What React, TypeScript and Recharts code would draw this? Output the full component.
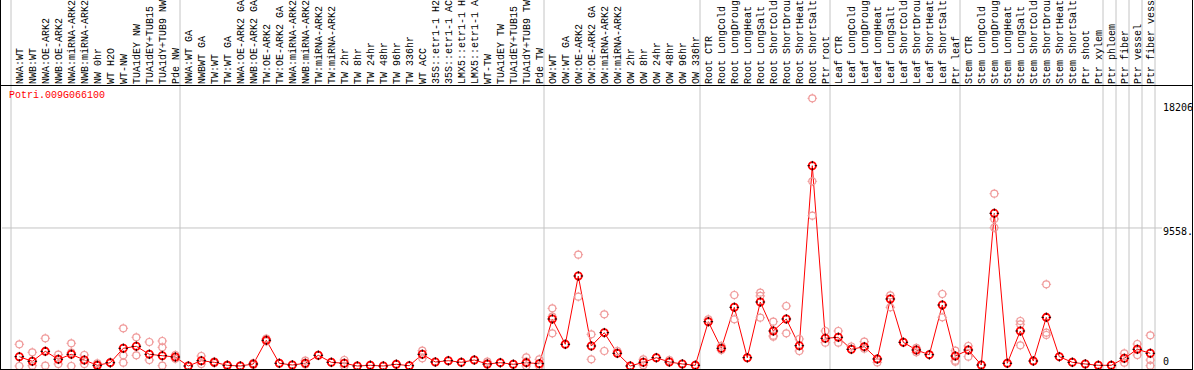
import React from "react";
import {
  ComposedChart,
  Line,
  Scatter,
  XAxis,
  YAxis,
  ReferenceLine,
} from "recharts";

const geneId = "Potri.009G066100";

const categories = [
  "NWA:WT", "NWB:WT", "NWA:OE-ARK2", "NWB:OE-ARK2", "NWA:miRNA-ARK2", "NWB:miRNA-ARK2",
  "NW 0hr", "WT H2O", "WT-NW", "TUA1dEY NW", "TUA1dEY+TUB15", "TUA1dY+TUB9 NW", "Pde NW",
  "NWA:WT GA", "NWBWT GA", "TW:WT", "TW:WT GA", "NWA:OE-ARK2 GA", "NWB:OE-ARK2 GA",
  "TW:OE-ARK2", "TW:OE-ARK2 GA", "NWA:miRNA-ARK2", "NWB:miRNA-ARK2", "TW:miRNA-ARK2",
  "TW:miRNA-ARK2", "TW 2hr", "TW 8hr", "TW 24hr", "TW 48hr", "TW 96hr", "TW 336hr",
  "WT ACC", "35S::etr1-1 H2", "35S::etr1-1 AC", "LMX5::etr1-1 H", "LMX5::etr1-1 A",
  "WT-TW", "TUA1dEY TW", "TUA1dEY+TUB15", "TUA1dY+TUB9 TW", "Pde TW",
  "OW:WT", "OW:WT GA", "OW:OE-ARK2", "OW:OE-ARK2 GA", "OW:miRNA-ARK2", "OW:miRNA-ARK2",
  "OW 2hr", "OW 8hr", "OW 24hr", "OW 48hr", "OW 96hr", "OW 336hr",
  "Root CTR", "Root LongCold", "Root LongDroug", "Root LongHeat", "Root LongSalt",
  "Root ShortCold", "Root ShortDrou", "Root ShortHeat", "Root ShortSalt", "Ptr root",
  "Leaf CTR", "Leaf LongCold", "Leaf LongDroug", "Leaf LongHeat", "Leaf LongSalt",
  "Leaf ShortCold", "Leaf ShortDrou", "Leaf ShortHeat", "Leaf ShortSalt", "Ptr leaf",
  "Stem CTR", "Stem LongCold", "Stem LongDroug", "Stem LongHeat", "Stem LongSalt",
  "Stem ShortCold", "Stem ShortDrou", "Stem ShortHeat", "Stem ShortSalt", "Ptr shoot",
  "Ptr xylem", "Ptr phloem", "Ptr fiber", "Ptr vessel", "Ptr fiber vess",
];

const means = [
  644, 325, 1016, 464, 810, 415, 48, 229, 1226, 1364, 810, 713, 623,
  0, 367, 256, 48, 0, 139, 1780, 187, 69, 187, 741, 256, 187, 0, 48, 0, 118, 21, 810, 277, 367,
  256, 415, 139, 229, 118, 229, 159,
  3255, 1503, 6233, 1385, 2308, 879, 0, 256, 575, 277, 139, 48,
  3068, 1226, 4065, 575, 4432, 2424, 3255, 1406, 13871, 1918,
  1987, 1156, 1337, 485, 4640, 1641, 1108, 783, 4224, 692,
  1108, 69, 10574, 187, 2424, 346, 3370, 645, 256, 139, 48,
  48, 533, 1156, 879,
];

const rep1 = [
  1503, 948, 1918, 783, 1572, 762, 187, 260, 2610, 1987, 1662, 1731, 760,
  0, 692, 300, 80, 0, 200, 1890, 187, 69, 367, 741, 256, 415, 0, 48, 0, 118, 21, 1060, 277, 367,
  256, 415, 300, 229, 118, 602, 464,
  3993, 1503, 7710, 2194, 3578, 1039, 0, 464, 575, 415, 139, 48,
  3234, 1400, 4917, 575, 5076, 3068, 4155, 1870, 18538, 2424,
  2424, 1350, 1683, 485, 4894, 1641, 1250, 783, 4986, 1060,
  1385, 69, 11932, 187, 3116, 346, 5655, 645, 256, 139, 48,
  48, 879, 1523, 2126,
];

const rep2 = [
  0, 21, 21, 139, 921, 139, 0, 200, 741, 741, 415, 1295, 500,
  null, 139, 200, 0, null, 80, 1700, null, null, 100, null, null, 0, null, null, null, null, null, 533, null, null,
  null, null, 100, null, null, 300, 0,
  3417, null, 4800, 464, 1039, 879, null, 50, null, 277, null, null,
  3068, 1100, 3234, null, 4850, 2029, 2264, 1039, 12790, 1614,
  1614, 1156, 1200, 250, 4065, null, 950, null, 3370, 367,
  645, null, 10180, null, 2885, null, 2308, null, null, null, null,
  null, 229, 762, 415,
];

const rep3 = [
  null, null, null, null, 0, null, null, null, 229, null, null, 21, null,
  null, null, null, null, null, null, null, null, null, null, null, null, null, null, null, null, null, null, null, null, null,
  null, null, null, null, null, 0, null,
  2264, null, null, null, null, null, null, null, null, null, null, null,
  null, null, null, null, 3345, 2100, null, null, 10408, null,
  null, null, null, null, null, null, null, null, null, 300,
  null, null, 9577, null, 1431, null, 2147, null, null, null, null,
  null, null, null, 21,
];

// first category index of each block, plus the end
const groupStarts = [0, 13, 41, 53, 63, 73, 84, 85, 86, 87, 88];

const yTicks = [0, 9558, 18206];
const yTickLabels = ["0", "9558.", "18206"];

const lineData = means.map((m, i) => ({ x: i, mean: m }));
const repData = [rep1, rep2, rep3].flatMap((r) =>
  r
    .map((v, i) => (v == null ? null : { x: i, y: v }))
    .filter((d): d is { x: number; y: number } => d !== null)
);

const GRID = "#c4c4c4";
const MONO = "'Liberation Mono', 'DejaVu Sans Mono', monospace";

const MeanDot = (props: any) => {
  const { cx, cy, index } = props;
  if (cx == null || cy == null) return <g key={index} />;
  return (
    <g key={index}>
      <circle cx={cx} cy={cy} r={3.6} fill="none" stroke="#ff0000" strokeWidth={1.8} />
      <line x1={cx} x2={cx} y1={cy - 4.8} y2={cy - 2.4} stroke="#000" strokeWidth={1} />
      <line x1={cx} x2={cx} y1={cy + 2.4} y2={cy + 4.8} stroke="#000" strokeWidth={1} />
      <line x1={cx - 4.8} x2={cx - 2.4} y1={cy} y2={cy} stroke="#000" strokeWidth={1} />
      <line x1={cx + 2.4} x2={cx + 4.8} y1={cy} y2={cy} stroke="#000" strokeWidth={1} />
    </g>
  );
};

const RepDot = (props: any) => {
  const { cx, cy } = props;
  const c = "#f09c9c";
  return (
    <g>
      <circle cx={cx} cy={cy} r={3.5} fill="none" stroke={c} strokeWidth={1.2} />
      <line x1={cx} x2={cx} y1={cy - 4.8} y2={cy - 3} stroke={c} strokeWidth={1} />
      <line x1={cx} x2={cx} y1={cy + 3} y2={cy + 4.8} stroke={c} strokeWidth={1} />
      <line x1={cx - 4.8} x2={cx - 3} y1={cy} y2={cy} stroke={c} strokeWidth={1} />
      <line x1={cx + 3} x2={cx + 4.8} y1={cy} y2={cy} stroke={c} strokeWidth={1} />
    </g>
  );
};

const XTick = (props: any) => {
  const { x, y, payload } = props;
  const label = categories[payload.value];
  return (
    <text
      transform={`translate(${x + 3.5},${y}) rotate(-90)`}
      textAnchor="start"
      fontFamily={MONO}
      fontSize={10}
      fill="#000"
    >
      {label}
    </text>
  );
};

const YTick = (props: any) => {
  const { x, y, payload } = props;
  const idx = yTicks.indexOf(payload.value);
  const label = idx >= 0 ? yTickLabels[idx] : String(payload.value);
  const isZero = payload.value === 0;
  return (
    <text
      x={x}
      y={isZero ? y - 1 : y + 7.5}
      textAnchor="start"
      fontFamily="'DejaVu Sans Mono', monospace"
      fontSize={10}
      fill="#000"
    >
      {label}
    </text>
  );
};

const SepLine = (props: any) => {
  const { x1, y2 } = props;
  return <line x1={x1} x2={x1} y1={0} y2={y2} stroke={GRID} strokeWidth={1} />;
};

export default function App() {
  return (
    <div style={{ position: "absolute", left: 0, top: 0, width: 1194, height: 370, background: "#fff" }}>
      <style>{`body{margin:0;}`}</style>
      <ComposedChart
        width={1194}
        height={370}
        margin={{ top: 0, right: 0, left: 2, bottom: 1 }}
      >
        <XAxis
          xAxisId="x"
          type="number"
          dataKey="x"
          orientation="top"
          height={86}
          domain={[-1.331, 87.9]}
          allowDataOverflow
          ticks={categories.map((_, i) => i)}
          interval={0}
          tick={<XTick />}
          tickSize={0}
          tickMargin={2}
          axisLine={false}
          tickLine={false}
        />
        <YAxis
          yAxisId="y"
          orientation="right"
          width={32}
          type="number"
          domain={[-208, 19391]}
          allowDataOverflow
          ticks={yTicks}
          interval={0}
          tick={<YTick />}
          tickSize={0}
          tickMargin={1}
          axisLine={false}
          tickLine={false}
        />
        <ReferenceLine xAxisId="x" yAxisId="y" y={9558} stroke={GRID} strokeWidth={1} />
        {groupStarts.map((g) => (
          <ReferenceLine
            key={`sep-${g}`}
            xAxisId="x"
            yAxisId="y"
            x={g - 0.638}
            stroke={GRID}
            shape={SepLine}
          />
        ))}
        <Scatter
          xAxisId="x"
          yAxisId="y"
          data={repData}
          dataKey="y"
          shape={RepDot}
          isAnimationActive={false}
        />
        <Line
          xAxisId="x"
          yAxisId="y"
          data={lineData}
          dataKey="mean"
          type="linear"
          stroke="#ff0000"
          strokeWidth={1}
          dot={MeanDot}
          activeDot={false}
          isAnimationActive={false}
        />
      </ComposedChart>
      <div
        style={{
          position: "absolute",
          left: 9,
          top: 90,
          fontFamily: MONO,
          fontSize: 10,
          lineHeight: "12px",
          color: "#ff0000",
          whiteSpace: "nowrap",
        }}
      >
        {geneId}
      </div>
      <div style={{ position: "absolute", left: 0, top: 0, width: 1, height: 370, background: "#000" }} />
      <div style={{ position: "absolute", left: 1192, top: 0, width: 1, height: 370, background: "#000" }} />
      <div style={{ position: "absolute", left: 0, top: 85, width: 1193, height: 1, background: "#000" }} />
      <div style={{ position: "absolute", left: 0, top: 369, width: 1193, height: 1, background: "#000" }} />
    </div>
  );
}
